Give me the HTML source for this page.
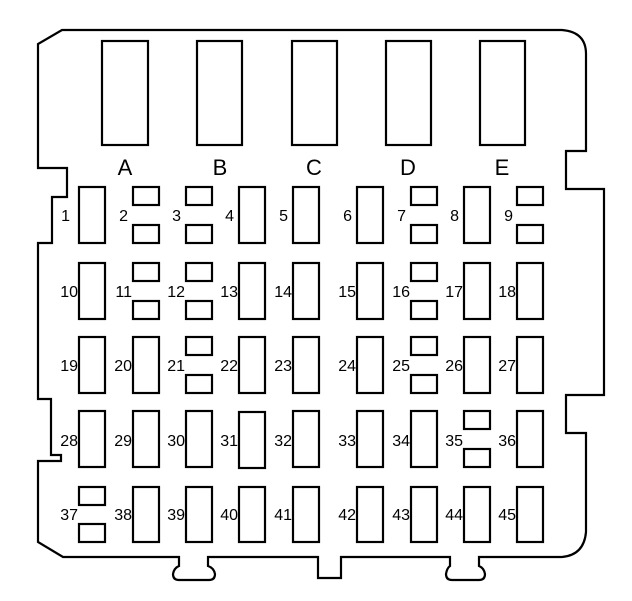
<!DOCTYPE html>
<html><head><meta charset="utf-8"><style>
html,body{margin:0;padding:0;background:#fff;width:632px;height:601px;overflow:hidden}
svg text{font-family:"Liberation Sans",sans-serif;fill:#000}
</style></head><body>
<svg width="632" height="601" viewBox="0 0 632 601" xmlns="http://www.w3.org/2000/svg">
<g fill="none" stroke="#000" stroke-width="2.2" stroke-linejoin="miter">
<path d="M62,30 L562,30 Q586,32 586,54 L586,151 L566,151 L566,189 L604,189 L604,395 L566,395 L566,433 L586,433 L586,532 Q584,555 562,557 L479,557 L479,566 Q484,568 485,574 Q485,580 479,580 L452,580 Q446,580 446,574 Q447,568 450,566 L450,557 L341,557 L341,578 L318,578 L318,557 L208,557 L208,566 Q214,568 215,574 Q215,580 209,580 L179,580 Q173,580 173,574 Q174,568 179,566 L179,557 L63,557 L38,542 L38,461 L61,461 L61,455 L51,455 L51,399 L38,399 L38,243 L52,243 L52,197 L67,197 L67,168 L38,168 L38,44 Z"/>
<rect x="102" y="41" width="46" height="104"/>
<rect x="197" y="41" width="45" height="104"/>
<rect x="292" y="41" width="45" height="104"/>
<rect x="386" y="41" width="45" height="104"/>
<rect x="480" y="41" width="45" height="104"/>
<rect x="79" y="187" width="26" height="56"/>
<rect x="133" y="187" width="26" height="18"/><rect x="133" y="225" width="26" height="18"/>
<rect x="186" y="187" width="26" height="18"/><rect x="186" y="225" width="26" height="18"/>
<rect x="239" y="187" width="26" height="56"/>
<rect x="293" y="187" width="26" height="56"/>
<rect x="357" y="187" width="26" height="56"/>
<rect x="411" y="187" width="26" height="18"/><rect x="411" y="225" width="26" height="18"/>
<rect x="464" y="187" width="26" height="56"/>
<rect x="517" y="187" width="26" height="18"/><rect x="517" y="225" width="26" height="18"/>
<rect x="79" y="263" width="26" height="56"/>
<rect x="133" y="263" width="26" height="18"/><rect x="133" y="301" width="26" height="18"/>
<rect x="186" y="263" width="26" height="18"/><rect x="186" y="301" width="26" height="18"/>
<rect x="239" y="263" width="26" height="56"/>
<rect x="293" y="263" width="26" height="56"/>
<rect x="357" y="263" width="26" height="56"/>
<rect x="411" y="263" width="26" height="18"/><rect x="411" y="301" width="26" height="18"/>
<rect x="464" y="263" width="26" height="56"/>
<rect x="517" y="263" width="26" height="56"/>
<rect x="79" y="337" width="26" height="56"/>
<rect x="133" y="337" width="26" height="56"/>
<rect x="186" y="337" width="26" height="18"/><rect x="186" y="375" width="26" height="18"/>
<rect x="239" y="337" width="26" height="56"/>
<rect x="293" y="337" width="26" height="56"/>
<rect x="357" y="337" width="26" height="56"/>
<rect x="411" y="337" width="26" height="18"/><rect x="411" y="375" width="26" height="18"/>
<rect x="464" y="337" width="26" height="56"/>
<rect x="517" y="337" width="26" height="56"/>
<rect x="79" y="411" width="26" height="56"/>
<rect x="133" y="411" width="26" height="56"/>
<rect x="186" y="411" width="26" height="56"/>
<rect x="239" y="412" width="26" height="56"/>
<rect x="293" y="411" width="26" height="56"/>
<rect x="357" y="411" width="26" height="56"/>
<rect x="411" y="411" width="26" height="56"/>
<rect x="464" y="411" width="26" height="18"/><rect x="464" y="449" width="26" height="18"/>
<rect x="517" y="411" width="26" height="56"/>
<rect x="79" y="487" width="26" height="18"/><rect x="79" y="524" width="26" height="18"/>
<rect x="133" y="487" width="26" height="55"/>
<rect x="186" y="487" width="26" height="55"/>
<rect x="239" y="487" width="26" height="55"/>
<rect x="293" y="487" width="26" height="55"/>
<rect x="357" y="487" width="26" height="55"/>
<rect x="411" y="487" width="26" height="55"/>
<rect x="464" y="487" width="26" height="55"/>
<rect x="517" y="487" width="26" height="55"/>
</g>
<g font-size="22" text-anchor="middle">
<text x="125" y="175">A</text><text x="220" y="175">B</text><text x="314" y="175">C</text><text x="408" y="175">D</text><text x="502" y="175">E</text>
</g>
<g font-size="16" text-anchor="end">
<text x="70" y="221">1</text><text x="128" y="221">2</text><text x="181" y="221">3</text><text x="234" y="221">4</text><text x="288" y="221">5</text><text x="352" y="221">6</text><text x="406" y="221">7</text><text x="459" y="221">8</text><text x="513" y="221">9</text>
<text x="78" y="297">10</text><text x="132" y="297">11</text><text x="185" y="297">12</text><text x="238" y="297">13</text><text x="292" y="297">14</text><text x="356" y="297">15</text><text x="410" y="297">16</text><text x="463" y="297">17</text><text x="516" y="297">18</text>
<text x="78" y="371">19</text><text x="132" y="371">20</text><text x="185" y="371">21</text><text x="238" y="371">22</text><text x="292" y="371">23</text><text x="356" y="371">24</text><text x="410" y="371">25</text><text x="463" y="371">26</text><text x="516" y="371">27</text>
<text x="78" y="446">28</text><text x="132" y="446">29</text><text x="185" y="446">30</text><text x="238" y="446">31</text><text x="292" y="446">32</text><text x="356" y="446">33</text><text x="410" y="446">34</text><text x="463" y="446">35</text><text x="516" y="446">36</text>
<text x="78" y="520">37</text><text x="132" y="520">38</text><text x="185" y="520">39</text><text x="238" y="520">40</text><text x="292" y="520">41</text><text x="356" y="520">42</text><text x="410" y="520">43</text><text x="463" y="520">44</text><text x="516" y="520">45</text>
</g>
</svg>
</body></html>
